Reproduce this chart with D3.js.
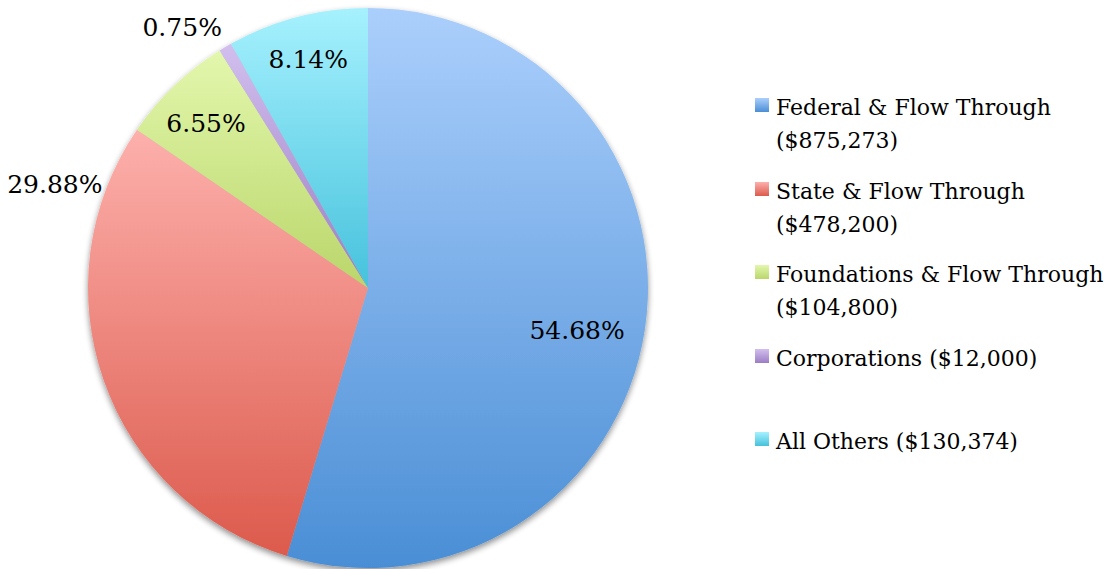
<!DOCTYPE html>
<html><head><meta charset="utf-8">
<script src="https://cdn.jsdelivr.net/npm/d3@7"></script>
<style>body{margin:0;background:#fff;}svg{display:block;}</style>
</head><body>
<svg id="c" width="1116" height="569"></svg>
<script>
const categories = ["Federal & Flow Through", "State & Flow Through", "Foundations & Flow Through", "Corporations", "All Others"];
const values = [875273, 478200, 104800, 12000, 130374];
const pctLabels = ["54.68%", "29.88%", "6.55%", "0.75%", "8.14%"];
const legendLines = [["Federal & Flow Through", "($875,273)"], ["State & Flow Through", "($478,200)"], ["Foundations & Flow Through", "($104,800)"], ["Corporations ($12,000)"], ["All Others ($130,374)"]];
const topColors = ["#abcffc", "#fdb0ac", "#e3f7ad", "#d2bfee", "#a6f1fe"];
const bottomColors = ["#4a8ed5", "#dc5a4c", "#bad66a", "#9b7dc4", "#46c2dc"];

const svg = d3.select("#c");
const font = "'DejaVu Serif', serif";
const cx = 368, cy = 288, R = 280;

const defs = svg.append("defs");
const f = defs.append("filter").attr("id", "sh").attr("x", "-10%").attr("y", "-10%").attr("width", "120%").attr("height", "125%");
f.append("feGaussianBlur").attr("in", "SourceAlpha").attr("stdDeviation", 3).attr("result", "b");
f.append("feOffset").attr("in", "b").attr("dy", 3).attr("result", "o");
f.append("feComponentTransfer").attr("in", "o").attr("result", "o2").append("feFuncA").attr("type", "linear").attr("slope", 0.45);
const m = f.append("feMerge");
m.append("feMergeNode").attr("in", "o2");
m.append("feMergeNode").attr("in", "SourceGraphic");

categories.forEach((c, i) => {
  const g = defs.append("linearGradient").attr("id", "g" + i).attr("x1", 0).attr("y1", 0).attr("x2", 0).attr("y2", 1);
  g.append("stop").attr("offset", 0).attr("stop-color", topColors[i]);
  g.append("stop").attr("offset", 1).attr("stop-color", bottomColors[i]);
});

const pie = d3.pie().sort(null).value(d => d)(values);
const arc = d3.arc().innerRadius(0).outerRadius(R);
const gp = svg.append("g").attr("transform", `translate(${cx},${cy})`);
const shadowG = gp.append("g").attr("filter", "url(#sh)");
shadowG.selectAll("path").data(pie).join("path")
  .attr("d", arc).attr("fill", (d, i) => `url(#g${i})`);

// label placement: radius fraction along the mid-angle plus a nudge
const labelR = [0.78, 1.14, 0.82, 1.14, 0.843];
const labelOffsets = [[-7, 10], [-12, -209], [-3, 1], [-23, 14], [0, 0]];
pie.forEach((d, i) => {
  const a = (d.startAngle + d.endAngle) / 2;
  const r = R * labelR[i];
  const x = Math.sin(a) * r, y = -Math.cos(a) * r;
  gp.append("text").attr("x", x + labelOffsets[i][0]).attr("y", y + labelOffsets[i][1])
    .attr("text-anchor", "middle").attr("dominant-baseline", "central")
    .attr("font-family", font).attr("font-size", 25).attr("fill", "#000")
    .text(pctLabels[i]);
});

// legend
const legY = [107, 191, 274, 358, 441];
const lg = svg.append("g");
legendLines.forEach((lines, i) => {
  lg.append("rect").attr("x", 755).attr("y", legY[i] - 9).attr("width", 14).attr("height", 14)
    .attr("fill", `url(#g${i})`);
  lines.forEach((t, j) => {
    lg.append("text").attr("x", 776).attr("y", legY[i] + j * 33).attr("dominant-baseline", "central")
      .attr("font-family", font).attr("font-size", 22).attr("fill", "#000").text(t);
  });
});
</script>
</body></html>
